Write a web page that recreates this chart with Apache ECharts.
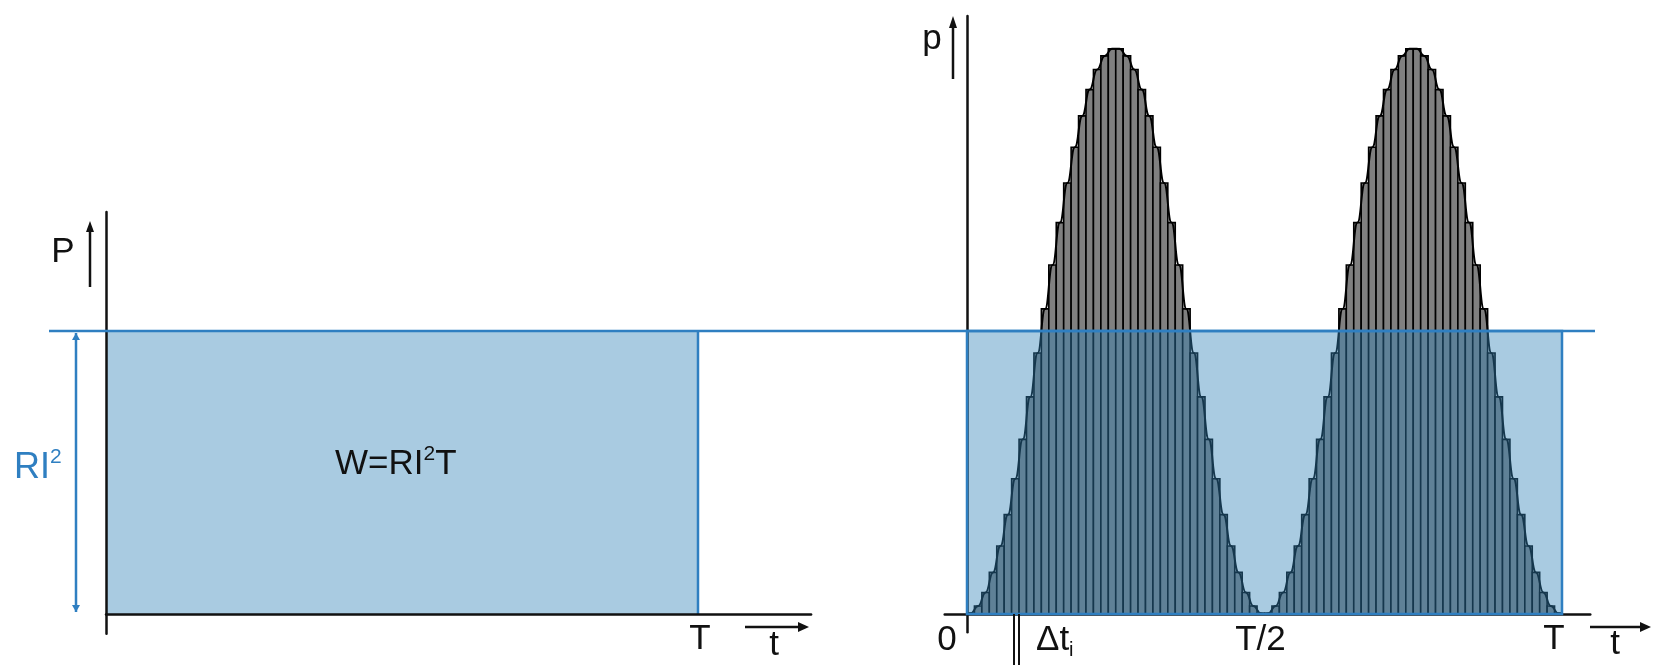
<!DOCTYPE html>
<html><head><meta charset="utf-8">
<script src="https://cdn.jsdelivr.net/npm/echarts@6/dist/echarts.min.js"></script>
<style>html,body{margin:0;padding:0;background:#fff}#c{width:1655px;height:665px}</style>
</head><body><div id="c"></div>
<script>
// ---- data ----
const levelRI2 = 1;          // RI² level (mean power), in units of RI²
const periodLeft = 1;        // T on the left panel
const barsPerPeriod = 80;    // number of Δt slices over one period T (right panel)
// instantaneous power p for each slice Δt_i (units of RI²)
const pBars = [
  0.003, 0.028, 0.076, 0.147, 0.240, 0.351, 0.478, 0.617, 0.767, 0.922,
  1.078, 1.233, 1.383, 1.523, 1.649, 1.760, 1.853, 1.924, 1.972, 1.997,
  1.997, 1.972, 1.924, 1.853, 1.760, 1.649, 1.523, 1.383, 1.233, 1.078,
  0.922, 0.767, 0.617, 0.478, 0.351, 0.240, 0.147, 0.076, 0.028, 0.003,
  0.003, 0.028, 0.076, 0.147, 0.240, 0.351, 0.478, 0.617, 0.767, 0.922,
  1.078, 1.233, 1.383, 1.523, 1.649, 1.760, 1.853, 1.924, 1.972, 1.997,
  1.997, 1.972, 1.924, 1.853, 1.760, 1.649, 1.523, 1.383, 1.233, 1.078,
  0.922, 0.767, 0.617, 0.478, 0.351, 0.240, 0.147, 0.076, 0.028, 0.003
];
const leftTickLabels = [[1, 'T']];
const rightTickLabels = [[0, '0'], [40, 'T/2'], [80, 'T']];

// ---- styles ----
const BLUE = '#2f7fc1';
const FILL = 'rgba(50,131,183,0.42)';
const INK = '#111';
const FONT = 'Liberation Sans, Arial, sans-serif';

const chart = echarts.init(document.getElementById('c'), null, {renderer: 'canvas'});
const K = 595 / 80, PY = 283, PXL = 592;

const axisCommon = {
  type: 'value', axisTick: {show: false}, axisLabel: {show: false}, splitLine: {show: false},
  axisLine: {show: true, onZero: true, lineStyle: {color: INK, width: 2.5}}
};

const curve = [[0, 0]];
pBars.forEach((v, i) => {
  curve.push([i + 0.5, v]);
  if ((i + 1) % 40 === 0) curve.push([i + 1, 0]);
});

function rectShape(api) {
  const p0 = api.coord([api.value(0), 0]);
  const p1 = api.coord([api.value(1), api.value(2)]);
  return {x: p0[0], y: p1[1], width: p1[0] - p0[0], height: p0[1] - p1[1]};
}

chart.setOption({
  animation: false,
  grid: [
    {left: 106, top: 212, width: 1.191 * PXL, height: (1.4205 + 0.07) * PY, containLabel: false, outerBoundsMode: 'none'},
    {left: 967 - 3 * K, top: 16, width: 86.8 * K, height: (2.113 + 0.065) * PY, containLabel: false, outerBoundsMode: 'none'}
  ],
  xAxis: [
    Object.assign({}, axisCommon, {gridIndex: 0, min: 0, max: 1.191, z: 10}),
    Object.assign({}, axisCommon, {gridIndex: 1, min: -3, max: 83.8})
  ],
  yAxis: [
    Object.assign({}, axisCommon, {gridIndex: 0, min: -0.07, max: 1.4205, z: 10}),
    Object.assign({}, axisCommon, {gridIndex: 1, min: -0.065, max: 2.113})
  ],
  series: [
    { // left: W = RI²T rectangle
      type: 'custom', xAxisIndex: 0, yAxisIndex: 0, z: 2,
      encode: {x: [0, 1], y: 2},
      data: [[0, periodLeft, levelRI2]],
      renderItem: (params, api) => {
        const s = rectShape(api);
        return {type: 'group', children: [
          {type: 'rect', shape: s, style: {fill: FILL}},
          {type: 'line', shape: {x1: s.x + s.width, y1: s.y, x2: s.x + s.width, y2: s.y + s.height},
           style: {stroke: BLUE, lineWidth: 2.5}}
        ]};
      }
    },
    { // right: Δt slices of p
      type: 'custom', xAxisIndex: 1, yAxisIndex: 1, z: 2,
      encode: {x: [0, 1], y: 2},
      data: pBars.map((v, i) => [i, i + 1, v]),
      renderItem: (params, api) => ({
        type: 'rect', shape: rectShape(api),
        style: {fill: '#808080', stroke: '#000', lineWidth: 1.6}
      })
    },
    { // right: p(t) curve
      type: 'line', xAxisIndex: 1, yAxisIndex: 1, z: 3,
      data: curve, smooth: 0.5, smoothMonotone: 'x', showSymbol: false, symbol: 'none',
      lineStyle: {color: '#000', width: 2}
    },
    { // right: mean power rectangle RI²·T
      type: 'custom', xAxisIndex: 1, yAxisIndex: 1, z: 4,
      encode: {x: [0, 1], y: 2},
      data: [[0, barsPerPeriod, levelRI2]],
      renderItem: (params, api) => ({
        type: 'rect', shape: rectShape(api),
        style: {fill: FILL, stroke: BLUE, lineWidth: 2.5}
      })
    }
  ]
});

// ---- annotations ----
const L = (x, y) => chart.convertToPixel({gridIndex: 0}, [x, y]);
const R = (x, y) => chart.convertToPixel({gridIndex: 1}, [x, y]);
const ctx = document.createElement('canvas').getContext('2d');
function tw(t, size) { ctx.font = size + 'px ' + FONT; return ctx.measureText(t).width; }

const G = [];
function text(t, x, y, opt) {
  opt = opt || {};
  G.push({type: 'text', z: 100, x: x, y: y, style: {
    text: t, fontSize: opt.size || 35, fontFamily: FONT, fill: opt.color || INK,
    align: opt.align || 'center', verticalAlign: 'middle'}});
}
function line(x1, y1, x2, y2, color, w) {
  G.push({type: 'line', z: 100, shape: {x1, y1, x2, y2}, style: {stroke: color || INK, lineWidth: w || 2.5}});
}
function tri(pts, color) {
  G.push({type: 'polygon', z: 100, shape: {points: pts}, style: {fill: color || INK}});
}
// sequence of [text, size, dy] starting at x (left aligned)
function seq(parts, x, y, color) {
  let cx = x;
  parts.forEach(p => { text(p[0], cx, y + p[2], {size: p[1], align: 'left', color}); cx += tw(p[0], p[1]); });
}

const yLevel = L(0, levelRI2)[1];
const yBase = L(0, 0)[1];
// common RI² level line
line(49, yLevel, 1595, yLevel, BLUE, 2.5);

// left panel
seq([['W=RI', 35, 0], ['2', 21, -10], ['T', 35, 0]], 335, 464);
text('P', 63, 252);
line(90, 287, 90, 226); tri([[86, 232], [94, 232], [90, 221]]);
// dimension RI²
line(76, yLevel + 2, 76, yBase - 2, BLUE, 2.5);
tri([[72, yLevel + 9], [80, yLevel + 9], [76, yLevel + 2]], BLUE);
tri([[72, yBase - 9], [80, yBase - 9], [76, yBase - 2]], BLUE);
seq([['RI', 36, 0], ['2', 21, -11]], 14, 468, BLUE);
leftTickLabels.forEach(([v, s]) => text(s, L(v, 0)[0] + 2, 639));
line(745, 627, 802, 627); tri([[798, 622], [798, 632], [809, 627]]);
text('t', 774, 645);

// right panel
text('p', 932, 39);
line(953, 79, 953, 22); tri([[949, 28], [957, 28], [953, 16]]);
rightTickLabels.forEach(([v, s], k) => {
  const x = R(v, 0)[0];
  if (k === 0) text(s, x - 20, 640);
  else if (k === rightTickLabels.length - 1) text(s, x - 8, 639);
  else text(s, x - 4, 640);
});
line(1014, yBase, 1014, 665, INK, 2);
line(1019, yBase, 1019, 665, INK, 2);
seq([['Δt', 35, 0], ['i', 20, 10]], 1036, 640);
line(1590, 627, 1643, 627); tri([[1640, 622], [1640, 632], [1651, 627]]);
text('t', 1615, 644);

chart.setOption({graphic: {elements: G}});
</script>
</body></html>
